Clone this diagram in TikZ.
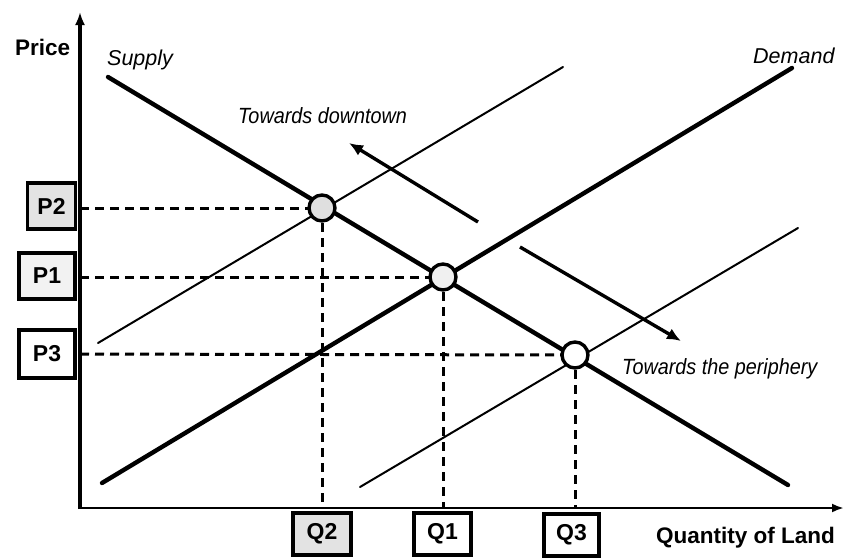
\documentclass[tikz,border=0pt]{standalone}
\usepackage{fontspec}
\setmainfont{Liberation Sans}
\newfontfamily\narrowsans[FakeStretch=0.9]{Liberation Sans}
\usetikzlibrary{arrows.meta}
\tikzset{
  axisline/.style={line width=3.2pt},
  thickline/.style={line width=4.4pt, line cap=round},
  thinline/.style={line width=2pt, line cap=round},
  dashline/.style={line width=3pt, dash pattern=on 9pt off 6pt},
  arrowline/.style={line width=3.4pt, -{Latex[length=14pt,width=12pt]}},
  eqpt/.style={circle, draw, line width=3.4pt, minimum size=26pt, inner sep=0pt},
  labbox/.style={draw, line width=3.6pt, inner sep=0pt, font=\fontsize{23}{26}\selectfont\bfseries},
  boldlab/.style={font=\fontsize{22.5}{26}\selectfont\bfseries},
  curvelab/.style={font=\fontsize{21.5}{24}\selectfont\itshape},
  notelab/.style={font=\fontsize{22}{26}\selectfont\narrowsans\itshape}
}
\begin{document}
\begin{tikzpicture}[x=1pt,y=-1pt]
\useasboundingbox (0,0) rectangle (846,558);
% axes
\coordinate (ytop) at (80,12);
\coordinate (xend) at (844,508);
\draw[axisline, -{Latex[length=13pt,width=10pt]}] (80,509) -- (ytop);
\draw[line width=2.6pt, -{Latex[length=12pt,width=9pt]}] (78,508) -- (xend);

% shifted curves (thin)
\coordinate (t1a) at (98,343);
\coordinate (t1b) at (563,67);
\coordinate (t2a) at (360,487);
\coordinate (t2b) at (798,228);
\draw[thinline] (t1a) -- (t1b);
\draw[thinline] (t2a) -- (t2b);

% main curves (thick)
\coordinate (sa) at (108,77);
\coordinate (sb) at (788,485);
\coordinate (da) at (102,483);
\coordinate (db) at (792,68);
\draw[thickline] (sa) -- (sb);
\draw[thickline] (da) -- (db);

% equilibrium points
\coordinate (c2) at (322,208);
\coordinate (c1) at (443,277);
\coordinate (c3) at (575,355);

% axis points
\coordinate (yP2) at (80,208);
\coordinate (yP1) at (80,277);
\coordinate (yP3) at (80,354);
\coordinate (xQ2) at (322,508);
\coordinate (xQ1) at (443,508);
\coordinate (xQ3) at (575,508);

\draw[dashline] (yP2) -- (c2);
\draw[dashline] (yP1) -- (c1);
\draw[dashline] (yP3) -- (c3);
\draw[dashline] (c2) -- (xQ2);
\draw[dashline] (c1) -- (xQ1);
\draw[dashline] (c3) -- (xQ3);

\node[eqpt, fill=gray!25] (e2) at (c2) {};
\node[eqpt, fill=gray!12] (e1) at (c1) {};
\node[eqpt, fill=white] (e3) at (c3) {};

% shift arrows
\coordinate (dtA) at (478,222);
\coordinate (dtB) at (349,143);
\coordinate (ppA) at (520,247);
\coordinate (ppB) at (681,341);
\draw[arrowline] (dtA) -- (dtB);
\draw[arrowline] (ppA) -- (ppB);

% label boxes
\node[labbox, fill=gray!22, minimum width=48pt, minimum height=46pt] (P2) at (51.5,206) {P2};
\node[labbox, fill=gray!10, minimum width=56pt, minimum height=46pt] (P1) at (47,276) {P1};
\node[labbox, fill=white, minimum width=56pt, minimum height=48pt] (P3) at (47,354) {P3};
\node[labbox, fill=gray!22, minimum width=58pt, minimum height=42pt] (Q2) at (322,534) {Q2};
\node[labbox, fill=white, minimum width=57pt, minimum height=42pt] (Q1) at (442.5,534) {Q1};
\node[labbox, fill=white, minimum width=55pt, minimum height=42pt] (Q3) at (571.5,535) {Q3};

% texts
\node[boldlab, anchor=base west, inner sep=0pt] (price) at (15,55) {Price};
\node[boldlab, anchor=base west, inner sep=0pt] (qland) at (656,543) {Quantity of Land};
\node[curvelab, anchor=base west, inner sep=0pt] (supply) at (107,65) {Supply};
\node[curvelab, anchor=base west, inner sep=0pt] (demand) at (753,63) {Demand};
\node[notelab, anchor=base west, inner sep=0pt] (down) at (238,123) {Towards downtown};
\node[notelab, anchor=base west, inner sep=0pt] (peri) at (622,374) {Towards the periphery};
\end{tikzpicture}
\end{document}
